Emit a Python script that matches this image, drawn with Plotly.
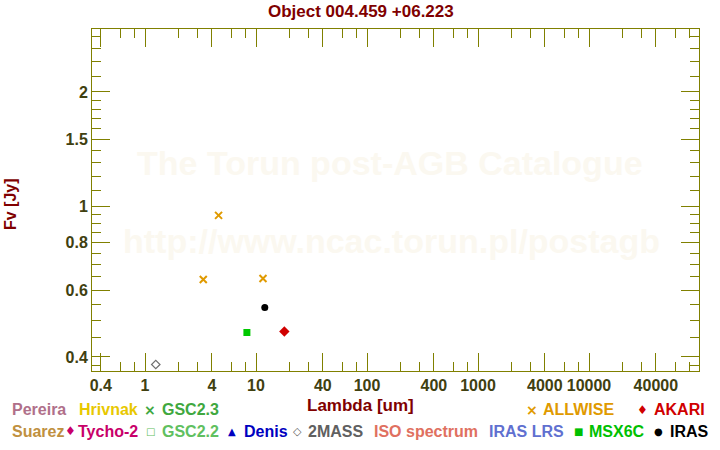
import plotly.graph_objects as go

# ---------------- data ----------------
allwise_wl = [3.35, 4.6, 11.56]
allwise_fv = [0.640, 0.945, 0.644]
twomass_wl = [1.25]
twomass_fv = [0.382]
msx_wl = [8.28]
msx_fv = [0.464]
iras_wl = [12.0]
iras_fv = [0.540]
akari_wl = [18.0]
akari_fv = [0.467]

x_major = [0.4, 1, 4, 10, 40, 100, 400, 1000, 4000, 10000, 40000]
x_major_labels = ["0.4", "1", "4", "10", "40", "100", "400", "1000", "4000", "10000", "40000"]
x_minor = [0.6, 0.8, 2, 3, 6, 8, 20, 30, 60, 80, 200, 300, 600, 800,
           2000, 3000, 6000, 8000, 20000, 30000, 60000, 80000]
y_major = [0.4, 0.6, 0.8, 1, 1.5, 2]
y_major_labels = ["0.4", "0.6", "0.8", "1", "1.5", "2"]
y_minor = [0.38, 0.45, 0.5, 0.55, 0.65, 0.7, 0.75, 0.85, 0.9, 0.95,
           1.1, 1.2, 1.3, 1.4, 1.6, 1.7, 1.8, 1.9, 2.2, 2.4, 2.6, 2.8]

legend_names = ["Pereira", "Hrivnak", "GSC2.3", "ALLWISE", "AKARI",
                "Suarez", "Tycho-2", "GSC2.2", "Denis", "2MASS",
                "ISO spectrum", "IRAS LRS", "MSX6C", "IRAS"]
legend_symbols = ["", "", "×", "×", "♦",
                  "", "♦", "□", "▲", "◇", "", "", "■", "●"]
legend_colors = ["#b0708a", "#e8c800", "#40a840", "#e09a00", "#d00000",
                 "#c09040", "#c8006a", "#60c060", "#0000c0", "#606060",
                 "#e07060", "#6070d0", "#00c000", "#000000"]

# ---------------- layout constants ----------------
W, H = 720, 450
# plot area in page pixels
PX0, PX1, PY0, PY1 = 92, 699, 29, 371
L, T = PX0, PY0
R, B = W - PX1, H - PY1
PW, PH = PX1 - PX0, PY1 - PY0
OLIVE = "#808000"
TICKC = "#404010"
DARKRED = "#800000"
FONT = "Liberation Sans, Arial, sans-serif"


def px(xp):
    return (xp - PX0) / PW


def py(yp):
    return (PY1 - yp) / PH


fig = go.Figure()
fig.add_trace(go.Scatter(x=allwise_wl, y=allwise_fv, mode="markers",
                         marker=dict(symbol="x-thin", size=7, color="#e09a00",
                                     line=dict(color="#e09a00", width=2))))
fig.add_trace(go.Scatter(x=twomass_wl, y=twomass_fv, mode="markers",
                         marker=dict(symbol="diamond-open", size=6.5, color="#707070",
                                     line=dict(color="#707070", width=1.2))))
fig.add_trace(go.Scatter(x=msx_wl, y=msx_fv, mode="markers",
                         marker=dict(symbol="square", size=7, color="#00c800",
                                     line=dict(width=0))))
fig.add_trace(go.Scatter(x=iras_wl, y=iras_fv, mode="markers",
                         marker=dict(symbol="circle", size=7, color="#000000",
                                     line=dict(width=0))))
fig.add_trace(go.Scatter(x=akari_wl, y=akari_fv, mode="markers",
                         marker=dict(symbol="diamond", size=8, color="#d00000",
                                     line=dict(width=0))))

axis_common = dict(
    type="log", showgrid=False, zeroline=False,
    showline=True, linecolor=OLIVE, linewidth=1, mirror="allticks",
    ticks="inside", ticklen=18, tickwidth=1, tickcolor=OLIVE,
    tickmode="array",
    tickfont=dict(family=FONT, size=16, color=TICKC, weight="bold"),
)

fig.update_xaxes(
    **axis_common,
    range=[-0.4775, 4.991],
    tickvals=x_major, ticktext=x_major_labels,
    minor=dict(tickmode="array", tickvals=x_minor, ticks="inside",
               ticklen=9, tickwidth=1, tickcolor=OLIVE),
)
fig.update_yaxes(
    **axis_common,
    range=[-0.435, 0.4669],
    tickvals=y_major, ticktext=y_major_labels,
    minor=dict(tickmode="array", tickvals=y_minor, ticks="inside",
               ticklen=9, tickwidth=1, tickcolor=OLIVE),
)

annotations = []
# watermark
WM = "#fbf8f0"
annotations.append(dict(text="The Torun post-AGB Catalogue", x=px(390), y=py(163),
                        xref="paper", yref="paper", showarrow=False,
                        font=dict(family=FONT, size=34, color=WM, weight="bold")))
annotations.append(dict(text="http://www.ncac.torun.pl/postagb", x=px(391), y=py(262),
                        xref="paper", yref="paper", showarrow=False,
                        font=dict(family=FONT, size=34, color=WM, weight="bold")))
# title and axis titles
annotations.append(dict(text="Object 004.459 +06.223", x=px(361), y=py(12),
                        xref="paper", yref="paper", showarrow=False,
                        xanchor="center", yanchor="middle",
                        font=dict(family=FONT, size=17, color=DARKRED, weight="bold")))
annotations.append(dict(text="Lambda [um]", x=px(360), y=py(405),
                        xref="paper", yref="paper", showarrow=False,
                        xanchor="center", yanchor="middle",
                        font=dict(family=FONT, size=17, color=DARKRED, weight="bold")))
annotations.append(dict(text="Fv [Jy]", x=px(10), y=py(204), textangle=-90,
                        xref="paper", yref="paper", showarrow=False,
                        xanchor="center", yanchor="middle",
                        font=dict(family=FONT, size=16, color=DARKRED, weight="bold")))

# legend layout: (text_x, symbol_x, row_y) in page pixels
legend_pos = [(10, None, 410), (77, None, 410), (160, 150, 410), (541, 532, 410), (652, 642, 410),
              (10, None, 431), (76, 70, 431), (160, 150.5, 431), (242, 231.5, 431), (306, 297, 431),
              (372, None, 431), (487, None, 431), (587, 578, 431), (668, 658, 431)]
sym_size = {"×": 14, "♦": 12, "□": 10, "▲": 10, "◇": 11, "■": 10, "●": 10}
for name, sym, col, (tx, sx, ry) in zip(legend_names, legend_symbols, legend_colors, legend_pos):
    annotations.append(dict(text=name, x=px(tx), y=py(ry), xref="paper", yref="paper",
                            showarrow=False, xanchor="left", yanchor="middle",
                            font=dict(family=FONT, size=16, color=col, weight="bold")))
    if sym:
        annotations.append(dict(text=sym, x=px(sx), y=py(ry), xref="paper", yref="paper",
                                showarrow=False, xanchor="center", yanchor="middle",
                                font=dict(family="DejaVu Sans", size=sym_size[sym], color=col,
                                          weight="bold" if sym == "×" else "normal")))

fig.update_layout(
    width=W, height=H,
    margin=dict(l=L, r=R, t=T, b=B, autoexpand=False),
    paper_bgcolor="white", plot_bgcolor="white",
    showlegend=False,
    annotations=annotations,
)

fig.write_html("out.html", config={"displayModeBar": False},
               post_script="document.body.style.margin='0';")
